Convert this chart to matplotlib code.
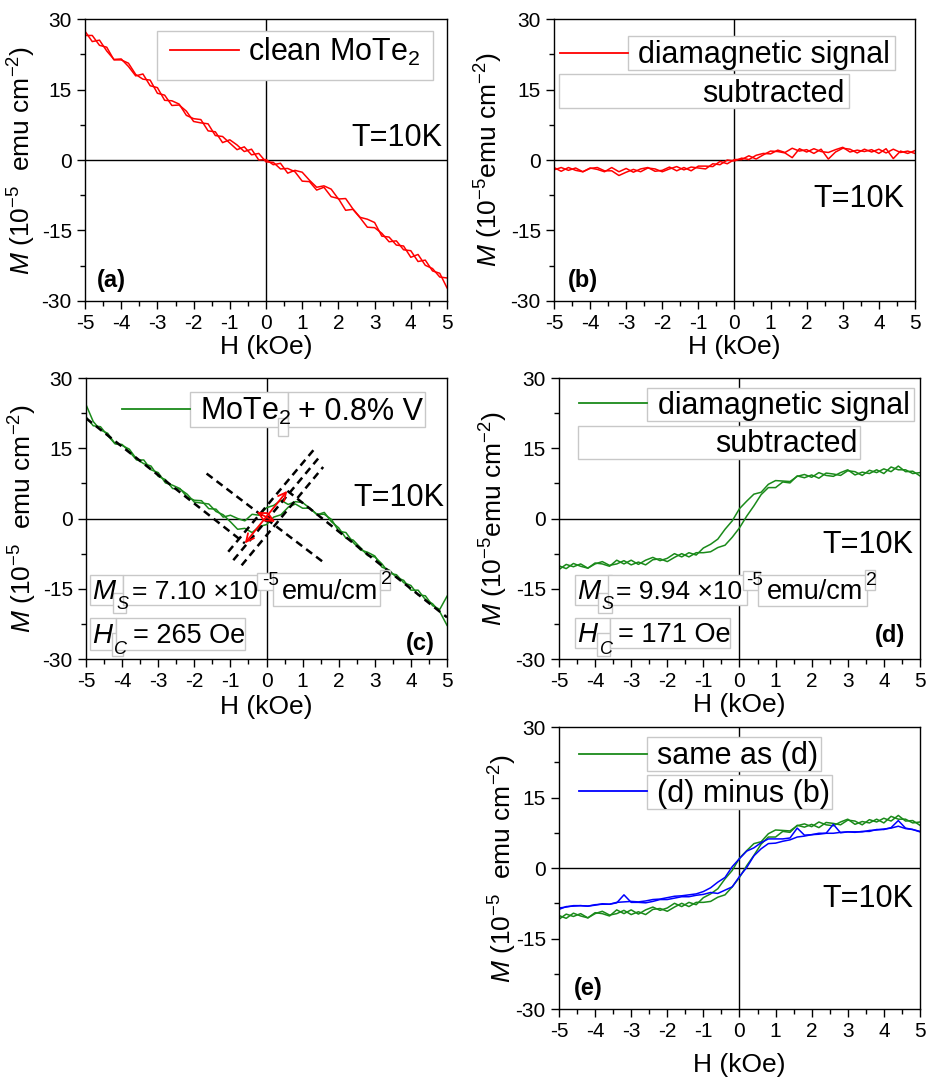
import numpy as np
import matplotlib
matplotlib.use('Agg')
import matplotlib.pyplot as plt
from matplotlib.patches import Rectangle
from matplotlib.ticker import MultipleLocator

plt.rcParams['font.family'] = 'Liberation Sans'
plt.rcParams['mathtext.fontset'] = 'custom'
plt.rcParams['mathtext.rm'] = 'Liberation Sans'
plt.rcParams['mathtext.it'] = 'Liberation Sans:italic'
plt.rcParams['mathtext.bf'] = 'Liberation Sans:bold'
plt.rcParams['axes.unicode_minus'] = False

# field sweep (kOe), same for every loop
H_kOe = np.linspace(-5, 5, 51)

# (a) clean MoTe2, M in 1e-5 emu/cm2
clean_down = [27.4, 25.2, 25.5, 23.2, 21.4, 21.5, 19.9, 17.9, 18.3, 15.8, 15.4, 12.7, 12.6, 11.9, 9.5, 8.8, 8.6,
              6.2, 6.0, 3.7, 4.3, 3.2, 1.8, 2.3, 0.0, 0.1, -1.0, -0.7, -2.8, -2.2, -2.6, -4.3, -5.8, -5.5, -6.2,
              -8.3, -8.2, -10.4, -12.2, -12.6, -13.3, -16.2, -16.4, -18.1, -18.3, -20.7, -20.1, -22.4, -23.1,
              -24.9, -25.1]
clean_up = [26.5, 26.5, 24.4, 24.0, 21.3, 21.3, 20.6, 18.2, 17.2, 17.0, 14.2, 13.8, 11.6, 11.7, 10.4, 8.2, 7.9,
            7.7, 5.2, 5.0, 3.6, 2.2, 2.8, 1.1, 1.4, -0.4, -0.5, -1.9, -1.8, -2.5, -4.5, -4.6, -6.4, -5.8, -7.8,
            -8.2, -10.7, -10.5, -12.3, -14.3, -14.4, -15.6, -17.4, -17.2, -19.1, -19.3, -21.6, -21.3, -23.6,
            -24.1, -27.2]

# (b) clean MoTe2, diamagnetic background subtracted
clean_sub_down = [-1.6, -2.4, -1.6, -2.2, -2.5, -1.7, -2.0, -2.5, -1.6, -2.5, -1.8, -2.6, -1.9, -1.6, -2.4, -2.2,
                  -1.5, -2.3, -1.6, -2.3, -1.3, -1.3, -1.4, -0.3, -0.8, 0.1, 0.1, 0.9, 0.2, 1.1, 1.9, 1.8, 1.5,
                  0.5, 2.4, 1.7, 2.4, 1.8, 1.6, 2.2, 2.7, 1.7, 2.1, 1.8, 2.2, 1.4, 2.4, 0.3, 1.9, 1.4, 2.0]
clean_sub_up = [-2.1, -1.6, -2.2, -1.7, -2.5, -1.8, -1.6, -2.3, -2.3, -3.3, -2.6, -2.0, -2.5, -1.7, -1.9, -2.5,
                -1.9, -1.4, -2.1, -1.5, -1.7, -1.9, -0.8, -1.0, 0.0, -0.2, 0.4, 0.1, 1.0, 1.4, 1.3, 2.1, 1.6,
                2.5, 1.9, 2.2, 1.4, 2.3, 0.2, 1.7, 2.5, 2.3, 1.5, 2.3, 1.7, 2.3, 1.5, 2.3, 1.6, 1.9, 1.4]

# (c) MoTe2 + 0.8% V, raw
doped_down = [21.7, 19.8, 19.6, 17.7, 16.0, 15.8, 14.3, 12.5, 12.5, 10.4, 9.8, 7.6, 7.1, 6.4, 4.6, 3.9, 3.8,
              2.1, 2.0, 0.3, 0.7, 0.0, -0.5, 0.9, 0.7, 2.3, 2.8, 3.9, 3.0, 3.6, 3.4, 2.2, 0.9, 0.9, -0.2, -2.7,
              -3.0, -5.1, -6.7, -7.2, -8.0, -10.4, -11.0, -12.6, -13.2, -15.3, -15.3, -17.3, -18.2, -19.9, -22.8]
doped_up = [24.3, 20.7, 18.9, 18.2, 16.0, 15.6, 14.8, 12.7, 11.7, 11.2, 9.0, 8.3, 6.4, 6.3, 5.2, 3.5, 3.3, 3.1,
            1.5, 0.8, -0.7, -2.3, -2.1, -3.0, -1.7, -1.3, 0.3, 0.8, 2.4, 3.1, 2.2, 2.2, 0.8, 1.3, -0.7, -2.0,
            -4.2, -4.6, -6.2, -7.9, -8.2, -9.7, -11.7, -12.0, -13.7, -14.3, -16.3, -16.5, -18.6, -19.4, -16.6]

# (d) MoTe2 + 0.8% V, diamagnetic background subtracted
doped_sub_down = [-10.1, -10.7, -9.6, -10.2, -10.6, -9.5, -9.7, -10.2, -8.9, -9.7, -8.9, -9.8, -8.9, -8.3, -9.0,
                  -8.5, -7.5, -8.2, -7.3, -7.8, -6.3, -5.5, -4.4, -2.3, -0.5, 2.1, 3.7, 5.2, 5.6, 7.3, 8.1, 8.0,
                  7.9, 9.0, 9.4, 8.8, 9.8, 9.2, 9.0, 9.8, 10.4, 9.3, 9.9, 9.6, 10.4, 9.6, 11.0, 10.4, 10.4, 9.6,
                  9.8]
doped_sub_up = [-10.9, -9.8, -10.3, -9.7, -10.6, -9.7, -9.2, -10.0, -9.7, -9.0, -9.9, -9.3, -9.9, -8.8, -8.6,
                -9.2, -8.3, -7.5, -8.2, -7.3, -7.3, -7.1, -6.2, -5.7, -4.0, -2.0, 0.5, 2.7, 5.1, 6.6, 6.6, 7.8,
                7.6, 9.1, 8.7, 9.3, 8.6, 9.7, 9.5, 9.2, 10.2, 10.0, 9.2, 10.3, 9.8, 10.6, 10.0, 11.2, 10.0, 10.1,
                9.1]

# (e) = (d) and (d) minus (b)
diff_down = np.array(doped_sub_down) - np.array(clean_sub_down)
diff_up = np.array(doped_sub_up) - np.array(clean_sub_up)

RED = '#ff0000'
GREEN = '#1a8a1a'
BLUE = '#0000ff'
BOXC = '#c8c8c8'
LW = 1.1

fig = plt.figure(figsize=(9.27, 10.8), dpi=100)
ax_a = fig.add_axes([0.0917, 0.7213, 0.3905, 0.2611])
ax_b = fig.add_axes([0.5976, 0.7213, 0.3894, 0.2611])
ax_c = fig.add_axes([0.0928, 0.3898, 0.3894, 0.2602])
ax_d = fig.add_axes([0.6030, 0.3898, 0.3894, 0.2602])
ax_e = fig.add_axes([0.6030, 0.0657, 0.3894, 0.2611])


def frame(ax, x0, x1, y0, y1):
    ax.add_patch(Rectangle((x0, y0), x1 - x0, y1 - y0, transform=ax.transAxes,
                           facecolor='white', edgecolor=BOXC, lw=1.0, zorder=4))


def txt(ax, x, y, s, size=22, **kw):
    ax.text(x, y, s, transform=ax.transAxes, fontsize=size, va='baseline', zorder=6, **kw)


def handle(ax, x0, x1, y, color):
    ax.plot([x0, x1], [y, y], transform=ax.transAxes, color=color, lw=1.3, zorder=6)


def setup(ax, tag, tag_x, tag_y, tag_ha, ylab, ylab_x, xlab_y, t_x, t_y):
    ax.set_xlim(-5, 5)
    ax.set_ylim(-30, 30)
    ax.set_xticks(range(-5, 6))
    ax.set_yticks([-30, -15, 0, 15, 30])
    ax.xaxis.set_minor_locator(MultipleLocator(0.5))
    ax.yaxis.set_minor_locator(MultipleLocator(7.5))
    ax.tick_params(which='both', direction='out', width=1.0, labelsize=15, top=False, right=False)
    ax.tick_params(which='major', length=6)
    ax.tick_params(which='minor', length=3.5)
    for sp in ax.spines.values():
        sp.set_linewidth(1.0)
    ax.axhline(0, color='k', lw=1.0, zorder=1)
    ax.axvline(0, color='k', lw=1.0, zorder=1)
    ax.set_xlabel('H (kOe)', fontsize=19)
    ax.xaxis.set_label_coords(0.5, xlab_y)
    ax.set_ylabel(ylab, fontsize=19)
    ax.yaxis.set_label_coords(ylab_x, 0.5)
    txt(ax, tag_x, tag_y, tag, size=17, fontweight='bold', ha=tag_ha)
    txt(ax, t_x, t_y, 'T=10K', ha='right')


ylab_sp = r'$M$ (10$^{-5}$  emu cm$^{-2}$)'
ylab_ns = r'$M$ (10$^{-5}$emu cm$^{-2}$)'

# ---- (a)
ax = ax_a
ax.plot(H_kOe, clean_up, color=RED, lw=LW, zorder=2)
ax.plot(H_kOe, clean_down, color=RED, lw=LW, zorder=2)
setup(ax, '(a)', 0.033, 0.051, 'left', ylab_sp, -0.13, -0.12, 0.986, 0.551)
frame(ax, 0.199, 0.961, 0.784, 0.957)
handle(ax, 0.235, 0.425, 0.89, RED)
txt(ax, 0.45, 0.851, 'clean MoTe$_2$')

# ---- (b)
ax = ax_b
ax.plot(H_kOe, clean_sub_up, color=RED, lw=LW, zorder=2)
ax.plot(H_kOe, clean_sub_down, color=RED, lw=LW, zorder=2)
setup(ax, '(b)', 0.039, 0.048, 'left', ylab_ns, -0.136, -0.12, 0.972, 0.334)
handle(ax, 0.017, 0.206, 0.878, RED)
frame(ax, 0.206, 0.945, 0.819, 0.940)
txt(ax, 0.234, 0.843, 'diamagnetic signal')
frame(ax, 0.014, 0.818, 0.683, 0.805)
txt(ax, 0.805, 0.707, 'subtracted', ha='right')

# ---- (c)
ax = ax_c
ax.plot(H_kOe, doped_up, color=GREEN, lw=LW, zorder=2)
ax.plot(H_kOe, doped_down, color=GREEN, lw=LW, zorder=2)
setup(ax, '(c)', 0.967, 0.032, 'right', ylab_sp, -0.13, -0.128, 0.994, 0.546)
# high-field linear fits and construction lines for Ms and Hc
dash = dict(color='k', lw=1.8, ls=(0, (3, 2)), zorder=3)
ax.plot([-5, -0.6], [21.4, -5.3], **dash)
ax.plot([0.58, 5], [5.9, -21.1], **dash)
ax.plot([-1.66, 1.57], [9.6, -9.3], **dash)
for h0, m0, h1, m1 in [(-1.06, -7.1, 1.30, 14.6), (-0.92, -8.9, 1.43, 12.8), (-0.69, -10.0, 1.57, 11.0)]:
    ax.plot([h0, h1], [m0, m1], **dash)
ax.annotate('', xy=(0.575, 5.9), xytext=(-0.6, -5.3),
            arrowprops=dict(arrowstyle='<->', color=RED, lw=1.3, shrinkA=0, shrinkB=0, mutation_scale=14), zorder=5)
ax.annotate('', xy=(0.24, -0.7), xytext=(-0.27, 1.4),
            arrowprops=dict(arrowstyle='<->', color=RED, lw=1.3, shrinkA=0, shrinkB=0, mutation_scale=14), zorder=5)
handle(ax, 0.099, 0.288, 0.889, GREEN)
frame(ax, 0.288, 0.560, 0.827, 0.949)
frame(ax, 0.533, 0.560, 0.792, 0.857)
frame(ax, 0.560, 0.939, 0.827, 0.949)
txt(ax, 0.316, 0.851, 'MoTe$_2$')
txt(ax, 0.588, 0.851, '+ 0.8% V')
# Ms / Hc
frame(ax, 0.011, 0.102, 0.192, 0.299)
frame(ax, 0.076, 0.111, 0.164, 0.234)
frame(ax, 0.102, 0.482, 0.192, 0.299)
frame(ax, 0.473, 0.521, 0.247, 0.306)
frame(ax, 0.517, 0.814, 0.187, 0.306)
frame(ax, 0.814, 0.842, 0.246, 0.317)
frame(ax, 0.011, 0.083, 0.032, 0.145)
frame(ax, 0.071, 0.103, 0.009, 0.091)
frame(ax, 0.083, 0.440, 0.032, 0.145)
txt(ax, 0.017, 0.212, '$M$', size=20)
txt(ax, 0.083, 0.177, '$S$', size=13)
txt(ax, 0.127, 0.212, '= 7.10 \u00d710', size=19)
txt(ax, 0.489, 0.262, '-5', size=13.5)
txt(ax, 0.542, 0.212, 'emu/cm', size=19.5)
txt(ax, 0.817, 0.267, '2', size=14)
txt(ax, 0.017, 0.058, '$H$', size=20)
txt(ax, 0.076, 0.018, '$C$', size=13)
txt(ax, 0.130, 0.058, '= 265 Oe', size=19.5)

# ---- (d)
ax = ax_d
ax.plot(H_kOe, doped_sub_up, color=GREEN, lw=LW, zorder=2)
ax.plot(H_kOe, doped_sub_down, color=GREEN, lw=LW, zorder=2)
setup(ax, '(d)', 0.96, 0.062, 'right', ylab_ns, -0.136, -0.121, 0.983, 0.378)
handle(ax, 0.056, 0.245, 0.910, GREEN)
frame(ax, 0.245, 0.983, 0.847, 0.966)
txt(ax, 0.273, 0.872, 'diamagnetic signal')
frame(ax, 0.053, 0.834, 0.712, 0.830)
txt(ax, 0.826, 0.738, 'subtracted', ha='right')
frame(ax, 0.044, 0.146, 0.192, 0.299)
frame(ax, 0.109, 0.148, 0.164, 0.234)
frame(ax, 0.137, 0.520, 0.192, 0.299)
frame(ax, 0.511, 0.557, 0.247, 0.312)
frame(ax, 0.552, 0.852, 0.187, 0.299)
frame(ax, 0.848, 0.875, 0.246, 0.317)
frame(ax, 0.044, 0.141, 0.038, 0.145)
frame(ax, 0.104, 0.141, 0.009, 0.091)
frame(ax, 0.141, 0.475, 0.038, 0.145)
txt(ax, 0.051, 0.212, '$M$', size=20)
txt(ax, 0.117, 0.177, '$S$', size=13)
txt(ax, 0.158, 0.212, '= 9.94 \u00d710', size=19)
txt(ax, 0.518, 0.262, '-5', size=13.5)
txt(ax, 0.575, 0.212, 'emu/cm', size=19.5)
txt(ax, 0.850, 0.264, '2', size=14)
txt(ax, 0.051, 0.062, '$H$', size=20)
txt(ax, 0.110, 0.018, '$C$', size=13)
txt(ax, 0.163, 0.062, '= 171 Oe', size=19.5)

# ---- (e)
ax = ax_e
ax.plot(H_kOe, doped_sub_up, color=GREEN, lw=LW, zorder=2)
ax.plot(H_kOe, doped_sub_down, color=GREEN, lw=LW, zorder=2)
ax.plot(H_kOe, diff_up, color=BLUE, lw=LW, zorder=2)
ax.plot(H_kOe, diff_down, color=BLUE, lw=LW, zorder=2)
setup(ax, '(e)', 0.04, 0.049, 'left', ylab_sp, -0.112, -0.156, 0.983, 0.363)
handle(ax, 0.056, 0.243, 0.904, GREEN)
frame(ax, 0.243, 0.725, 0.844, 0.963)
txt(ax, 0.271, 0.869, 'same as (d)')
handle(ax, 0.056, 0.243, 0.774, BLUE)
frame(ax, 0.243, 0.755, 0.711, 0.829)
txt(ax, 0.271, 0.736, '(d) minus (b)')

fig.savefig('out.png', dpi=100, facecolor='white')
